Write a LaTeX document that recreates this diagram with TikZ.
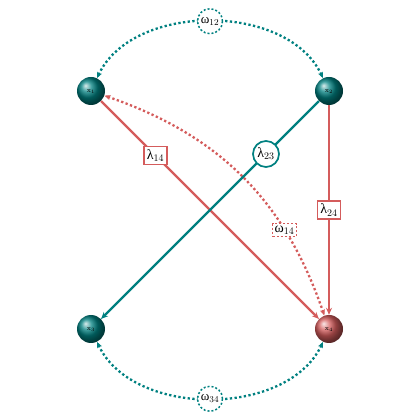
\documentclass[tikz,border=0pt]{standalone}
\usepackage{fontspec}
\newfontfamily\grk{Liberation Serif}
\usetikzlibrary{arrows.meta}
\definecolor{tl}{RGB}{0,128,128}
\definecolor{rd}{RGB}{212,92,92}
\begin{document}
\begin{tikzpicture}[x=1pt,y=1pt,
  ballnode/.style={circle,minimum size=28pt,inner sep=0pt,text=black,font=\fontsize{7}{8}\selectfont},
  tball/.style={ballnode,shade,ball color=tl},
  rball/.style={ballnode,shade,ball color=rd},
  solidtip/.style={-{Stealth[length=7pt,width=6pt]}},
  dottip/.style={{Stealth[length=6pt,width=5pt]}-{Stealth[length=6pt,width=5pt]}},
  redline/.style={draw=rd,line width=2.3pt,solidtip},
  tealline/.style={draw=tl,line width=2.3pt,solidtip},
  tealdot/.style={draw=tl,line width=2.3pt,dash pattern=on 2.3pt off 2.4pt,dottip},
  reddot/.style={draw=rd,line width=2.3pt,dash pattern=on 2.3pt off 2.4pt,dottip},
  lrect/.style={rectangle,draw=rd,line width=1.5pt,fill=white,inner sep=2.8pt,solid,font=\fontsize{14}{16}\selectfont},
  lcirc/.style={circle,draw=tl,line width=1.7pt,fill=white,inner sep=0.5pt,minimum size=26pt,solid,font=\fontsize{14}{16}\selectfont},
  drect/.style={rectangle,draw=rd,line width=1.5pt,fill=white,inner sep=2pt,dash pattern=on 2pt off 2pt,font=\fontsize{14}{16}\selectfont},
  dcirc/.style={circle,draw=tl,line width=1.5pt,fill=white,inner sep=0pt,minimum size=25pt,dash pattern=on 2pt off 2pt,font=\fontsize{13}{15}\selectfont}
]
\useasboundingbox (0,0) rectangle (420,420);
\node[tball] (x1) at (91,329) {x$_1$};
\node[tball] (x2) at (329,329) {x$_2$};
\node[tball] (x3) at (91,91) {x$_3$};
\node[rball] (x4) at (329,91) {x$_4$};
\draw[reddot] (x1) to[bend left=26] node[drect,pos=0.72] (w14) {{\grk ω}$_{14}$} (x4);
\draw[redline] (x1) -- node[lrect,pos=0.25] (l14) {{\grk λ}$_{14}$} (x4);
\draw[tealline] (x2) -- node[lcirc,pos=0.243] (l23) {{\grk λ}$_{23}$} (x3);
\draw[redline] (x2) -- node[lrect,pos=0.5] (l24) {{\grk λ}$_{24}$} (x4);
\draw[tealdot] (x1) to[out=65,in=115,looseness=0.95] node[dcirc,pos=0.5] (w12) {{\grk ω}$_{12}$} (x2);
\draw[tealdot] (x3) to[out=-65,in=-115,looseness=0.95] node[dcirc,pos=0.5] (w34) {{\grk ω}$_{34}$} (x4);
\end{tikzpicture}
\end{document}
